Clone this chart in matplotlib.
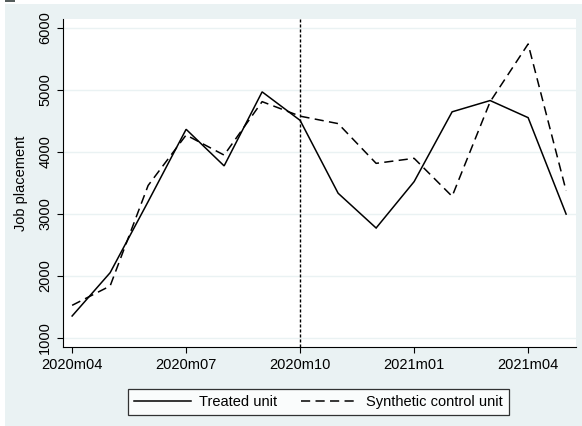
import matplotlib
matplotlib.use("Agg")
import matplotlib.pyplot as plt
from matplotlib.patches import Rectangle

# Monthly series, 2020m04 .. 2021m05
months = ["2020m04", "2020m05", "2020m06", "2020m07", "2020m08", "2020m09",
          "2020m10", "2020m11", "2020m12", "2021m01", "2021m02", "2021m03",
          "2021m04", "2021m05"]
treated = [1355, 2053, 3200, 4366, 3776, 4970, 4510, 3335, 2774, 3522,
           4648, 4830, 4554, 2998]
synthetic = [1527, 1839, 3460, 4274, 3950, 4812, 4578, 4458, 3817, 3898,
             3285, 4810, 5742, 3374]

tick_labels = ["2020m04", "2020m07", "2020m10", "2021m01", "2021m04"]
y_ticks = [1000, 2000, 3000, 4000, 5000, 6000]
intervention = "2020m10"

W, H = 582, 426
bg = "#EAF2F3"
fs = 10.5
plt.rcParams["font.family"] = ["Liberation Sans", "DejaVu Sans"]

fig = plt.figure(figsize=(W / 100, H / 100), dpi=100, facecolor="white")
# graph region background
fig.patches.append(Rectangle((5 / W, 0), 1 - 5 / W, 1 - 4 / H,
                             transform=fig.transFigure, facecolor=bg,
                             edgecolor="none", zorder=-10))
fig.patches.append(Rectangle((5 / W, 1 - 1.5 / H), 10 / W, 1.5 / H,
                             transform=fig.transFigure, facecolor="#555d5c",
                             edgecolor="none", zorder=-10))

left, right, top, bottom = 63, 576, 19, 347
ax = fig.add_axes([left / W, 1 - bottom / H, (right - left) / W, (bottom - top) / H])
ax.set_zorder(1)
ax.set_facecolor("white")

x = list(range(len(months)))
ax.plot(x, treated, color="black", lw=1.1, solid_joinstyle="miter",
        label="Treated unit", zorder=3)
ax.plot(x, synthetic, color="black", lw=1.1, dashes=(6, 3.5),
        label="Synthetic control unit", zorder=3)
ax.axvline(months.index(intervention), color="black", lw=1.0,
           dashes=(2.2, 1.4), zorder=2)

for v in y_ticks:
    ax.axhline(v, color=bg, lw=1.0, zorder=1)

ax.set_xlim(-0.24, 13.26)
ax.set_ylim(855, 6145)
ax.set_xticks([months.index(m) for m in tick_labels])
ax.set_xticklabels(tick_labels, fontsize=fs)
ax.set_yticks(y_ticks)
ax.set_yticklabels([str(v) for v in y_ticks], fontsize=fs, rotation=90, va="center")
ax.tick_params(axis="both", direction="out", length=4, width=0.8, color="black",
               pad=3.8)

for s in ["top", "right"]:
    ax.spines[s].set_visible(False)
for s in ["left", "bottom"]:
    ax.spines[s].set_color("black")
    ax.spines[s].set_linewidth(0.8)

fig.text(21 / W, 1 - 183 / H, "Job placement", rotation=90, ha="center",
         va="center", fontsize=fs)

leg = fig.legend(loc="center", bbox_to_anchor=((127 + 510) / 2 / W, 1 - 402 / H),
                 ncol=2, fontsize=fs, frameon=True, fancybox=False,
                 edgecolor="black", handlelength=3.9, columnspacing=1.6,
                 handletextpad=0.6, borderpad=0.4)
leg.get_frame().set_linewidth(0.9)
leg.set_zorder(2)

fig.savefig("out.png", dpi=100, facecolor="white")
